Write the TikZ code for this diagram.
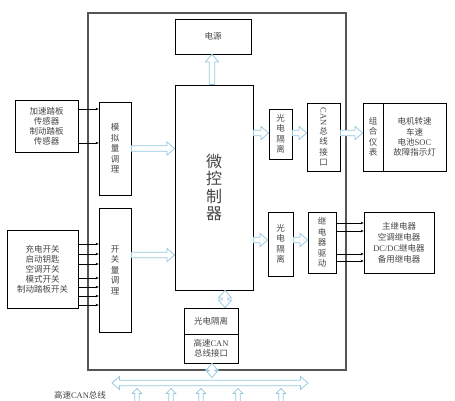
\documentclass[tikz,border=0pt]{standalone}
\usepackage{fontspec}
\usepackage{graphicx}
\setmainfont{Liberation Serif}
\newfontfamily\cj{Noto Sans CJK SC}
\usetikzlibrary{arrows.meta,calc}
\definecolor{hb}{RGB}{150,200,222}
\definecolor{tx}{RGB}{70,70,70}
\definecolor{frame}{RGB}{85,85,85}
\begin{document}
\begin{tikzpicture}[x=1pt,y=-1pt,
  box/.style={draw, line width=0.8pt, inner sep=0pt, align=center, text=tx,
    font=\cj\fontsize{8.5}{10}\selectfont},
  vbox/.style={box, font=\cj\fontsize{8.5}{10.5}\selectfont},
  hollow/.style={draw=hb, line width=0.75pt, fill=white, to path={
    let \p1=(\tikztostart), \p2=(\tikztotarget),
        \n1={atan2(\y2-\y1,\x2-\x1)}, \n2={veclen(\x2-\x1,\y2-\y1)} in
    {[shift={(\p1)}, rotate=\n1, x=1pt, y=1pt]
     (0,-2.8) -- (\n2-7.5,-2.8) -- (\n2-7.5,-6.5) -- (\n2,0) -- (\n2-7.5,6.5) -- (\n2-7.5,2.8) -- (0,2.8) -- cycle}}},
  hollow2/.style={draw=hb, line width=0.75pt, fill=white, to path={
    let \p1=(\tikztostart), \p2=(\tikztotarget),
        \n1={atan2(\y2-\y1,\x2-\x1)}, \n2={veclen(\x2-\x1,\y2-\y1)} in
    {[shift={(\p1)}, rotate=\n1, x=1pt, y=1pt]
     (0,0) -- (7.5,-6.5) -- (7.5,-2.8) -- (\n2-7.5,-2.8) -- (\n2-7.5,-6.5) -- (\n2,0) -- (\n2-7.5,6.5) -- (\n2-7.5,2.8) -- (7.5,2.8) -- (7.5,6.5) -- cycle}}},
  hollowS/.style={draw=hb, line width=0.75pt, fill=white, to path={
    let \p1=(\tikztostart), \p2=(\tikztotarget),
        \n1={atan2(\y2-\y1,\x2-\x1)}, \n2={veclen(\x2-\x1,\y2-\y1)} in
    {[shift={(\p1)}, rotate=\n1, x=1pt, y=1pt]
     (0,-2.2) -- (\n2-5,-2.2) -- (\n2-5,-4.8) -- (\n2,0) -- (\n2-5,4.8) -- (\n2-5,2.2) -- (0,2.2) -- cycle}}},
  thinarrow/.style={draw=black, line width=0.45pt, -{Stealth[length=3pt,width=2.6pt]}}]
\useasboundingbox[fill=white] (0,0) rectangle (455,401);
% outer frame
\node[draw=frame, line width=1.3pt, minimum width=258pt, minimum height=357pt, inner sep=0pt] (outer) at (217,191.5) {};
% boxes
\node[box, minimum width=76pt, minimum height=35pt] (power) at (213,36.5) {电源};
\node[box, minimum width=78pt, minimum height=205pt, font=\cj\fontsize{16}{17.5}\selectfont] (mcu) at (214,187.5) {微\\控\\制\\器};
\node[box, minimum width=63pt, minimum height=52pt] (sensor) at (46.5,126) {加速踏板\\传感器\\制动踏板\\传感器};
\node[vbox, minimum width=32pt, minimum height=93pt] (analog) at (115,148.5) {模\\拟\\量\\调\\理};
\node[box, minimum width=71pt, minimum height=78pt] (switch) at (42.5,269) {充电开关\\启动钥匙\\空调开关\\模式开关\\制动踏板开关};
\node[vbox, minimum width=32pt, minimum height=124pt] (digital) at (115,270) {开\\关\\量\\调\\理};
\node[vbox, minimum width=23pt, minimum height=50pt] (isoA) at (280.5,134) {光\\电\\隔\\离};
\node[vbox, minimum width=33pt, minimum height=68pt] (can) at (323.5,137) {\rotatebox{-90}{\rmfamily CAN}\\总\\线\\接\\口};
\node[vbox, minimum width=20pt, minimum height=68pt] (meter) at (373,137) {组\\合\\仪\\表};
\node[box, minimum width=63pt, minimum height=68pt, font=\cj\fontsize{8.5}{10.4}\selectfont] (info) at (414.5,137) {电机转速\\车速\\电池{\rmfamily SOC}\\故障指示灯};
\node[vbox, minimum width=25pt, minimum height=64pt] (isoB) at (280.5,244) {光\\电\\隔\\离};
\node[vbox, minimum width=28pt, minimum height=61pt] (relaydrv) at (322,242.5) {继\\电\\器\\驱\\动};
\node[box, minimum width=70pt, minimum height=61pt, font=\cj\fontsize{8.5}{11}\selectfont] (relays) at (399,242.5) {主继电器\\空调继电器\\{\rmfamily DC/DC}继电器\\备用继电器};
\node[box, minimum width=54pt, minimum height=26pt] (isoC) at (211,321) {光电隔离};
\node[box, minimum width=54pt, minimum height=29pt] (canB) at (211,348.5) {高速{\rmfamily CAN}\\总线接口};
\node[text=tx, font=\cj\fontsize{8.5}{10}\selectfont, inner sep=0pt] (buslabel) at (80,395) {高速{\rmfamily CAN}总线};
% bus
\coordinate (busL) at (112,383);
\coordinate (busR) at (308,383);
\coordinate (busT) at (212,377.5);
\draw[hollow2] (busL) to (busR);
\foreach \xx in {137,171,201,238,281} \draw[hollowS] (\xx,403) to (\xx,388.5);
% hollow connectors
\draw[hollow] (mcu.north -| 212,0) to (power.south -| 212,0);
\draw[hollow] (analog.east) to (analog.east -| mcu.west);
\draw[hollow] (digital.east |- 0,255) to (mcu.west |- 0,255);
\draw[hollow] (mcu.east |- 0,133) to (isoA.west |- 0,133);
\draw[hollow] (isoA.east |- 0,133) to (can.west |- 0,133);
\draw[hollow] (can.east |- 0,133) to (meter.west |- 0,133);
\draw[hollow] (mcu.east |- 0,240) to (isoB.west |- 0,240);
\draw[hollow] (isoB.east |- 0,240) to (relaydrv.west |- 0,240);
\draw[hollow2] (mcu.south -| 225,0) to (isoC.north -| 225,0);
\draw[hollow2] (canB.south -| busT) to (busT);
% thin arrows
\foreach \yy in {109,143} \draw[thinarrow] (sensor.east |- 0,\yy) -- (analog.west |- 0,\yy);
\foreach \yy in {244,254,264,278,287,296,305} \draw[thinarrow] (switch.east |- 0,\yy) -- (digital.west |- 0,\yy);
\foreach \yy in {223,231,254,261} \draw[thinarrow] (relaydrv.east |- 0,\yy) -- (relays.west |- 0,\yy);
\end{tikzpicture}
\end{document}
